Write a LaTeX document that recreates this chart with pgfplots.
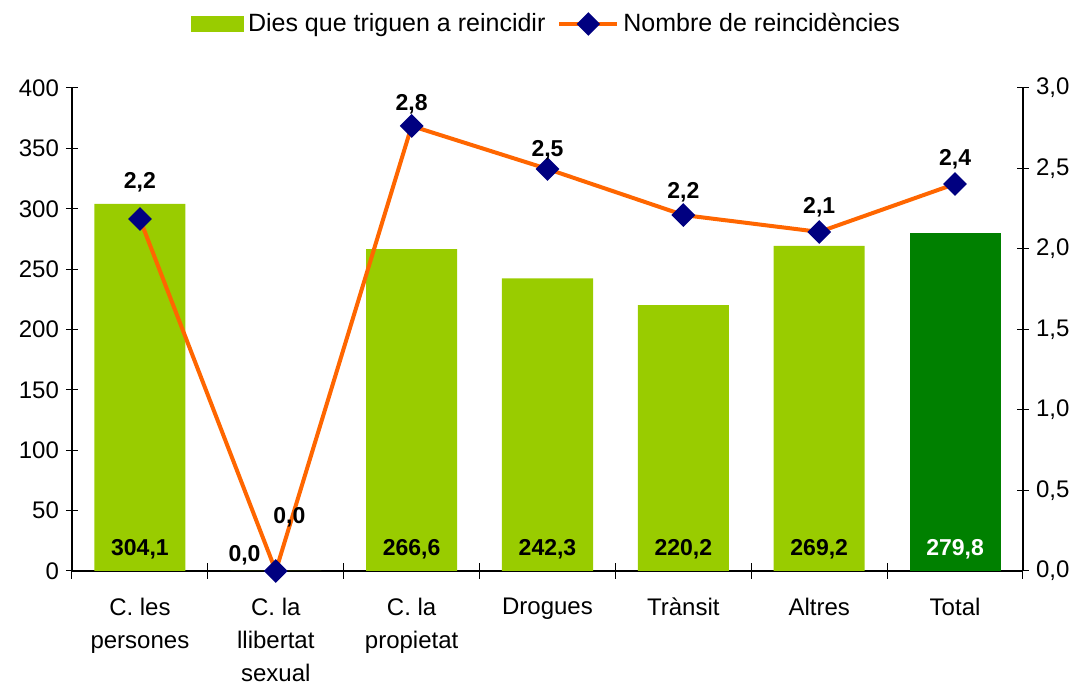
\documentclass[border=0pt]{standalone}
\usepackage{pgfplots}
\pgfplotsset{compat=1.18}
\usepackage{fontspec}
\setmainfont{Liberation Sans}
\definecolor{barlight}{HTML}{99CC00}
\definecolor{bardark}{HTML}{008000}
\definecolor{lineor}{HTML}{FF6600}
\definecolor{marknavy}{HTML}{000080}
\pgfplotstableread{
x y
0 304.1
1 0
2 266.6
3 242.3
4 220.2
5 269.2
}\barsA
\pgfplotstableread{
x y
6 279.8
}\barsB
\pgfplotstableread{
x y
0 2.186
1 0.0
2 2.764
3 2.497
4 2.211
5 2.106
6 2.404
}\linedata
\pgfplotstableread{
x y v
0 18.2 304.1
2 18.2 266.6
3 18.2 242.3
4 18.2 220.2
5 18.2 269.2
}\barlabA
\pgfplotstableread{
x y v
6 18.2 279.8
}\barlabB
\pgfplotstableread{
x y v
0 2.416 2.2
1.1 0.335 0.0
0.77 0.10 0.0
2 2.90 2.8
3 2.615 2.5
4 2.354 2.2
5 2.261 2.1
6 2.559 2.4
}\linelab
\newcommand{\lblfont}{\fontsize{11.5}{13}\selectfont\bfseries}
\begin{document}
\begin{tikzpicture}
\path[use as bounding box] (-36pt,-56.5pt) rectangle (506pt,285.5pt);
\pgfplotsset{
  every axis/.append style={
    scale only axis, width=475.5pt, height=241.5pt,
    at={(0,0)}, anchor=south west,
    xmin=-0.5, xmax=6.5,
    tick align=center,
    major tick length=6pt, minor tick length=8pt,
    tick style={black, line width=0.5pt},
    axis line style={black, line width=0.6pt},
    tick label style={font=\fontsize{12}{16.5}\selectfont},
    /pgf/number format/assume math mode=true,
  }
}
\begin{axis}[
  axis x line*=bottom, axis y line*=left,
  ymin=0, ymax=400, ytick={0,50,...,400},
  xtick={0,...,6},
  xticklabels={{C. les\\persones},{C. la\\llibertat\\sexual},{C. la\\propietat},{Drogues},{Trànsit},{Altres},{Total}},
  xticklabel style={align=center, yshift=-7pt},
  major x tick style={draw=none},
  minor xtick={-0.5,0.5,...,6.5},
  legend style={at={(0.5,1.1325)}, anchor=center, draw=none, fill=none,
    legend columns=2, font=\fontsize{12.5}{15}\selectfont,
    /tikz/every odd column/.append style={column sep=0pt},
    /tikz/every even column/.append style={column sep=4pt}},
  legend cell align=left,
]
\addplot[ybar, bar width=0.67, bar shift=0pt, fill=barlight, draw=none,
  legend image code/.code={\fill[barlight] (0pt,-4pt) rectangle (26.5pt,4pt);}]
  table[x=x,y=y]{\barsA};
\addlegendentry{Dies que triguen a reincidir}
\addplot[ybar, bar width=0.67, bar shift=0pt, fill=bardark, draw=none, forget plot]
  table[x=x,y=y]{\barsB};
\addlegendimage{lineor, line width=2pt,
  legend image code/.code={\draw[lineor, line width=2pt] (0pt,0pt) -- (29pt,0pt);
    \fill[marknavy] (14.5pt,-4.5pt) -- (19pt,0pt) -- (14.5pt,4.5pt) -- (10pt,0pt) -- cycle;}}
\addlegendentry{Nombre de reincidències}
\addplot[draw=none, forget plot, nodes near coords={\pgfmathprintnumber[use comma,fixed,fixed zerofill,precision=1]{\pgfplotspointmeta}},
  point meta=explicit, every node near coord/.append style={anchor=center, font=\lblfont, text=black}]
  table[x=x,y=y,meta=v]{\barlabA};
\addplot[draw=none, forget plot, nodes near coords={\pgfmathprintnumber[use comma,fixed,fixed zerofill,precision=1]{\pgfplotspointmeta}},
  point meta=explicit, every node near coord/.append style={anchor=center, font=\lblfont, text=white}]
  table[x=x,y=y,meta=v]{\barlabB};
\end{axis}
\begin{axis}[
  axis x line=none, axis y line*=right,
  ymin=0, ymax=3, ytick={0,0.5,...,3},
  yticklabel style={/pgf/number format/.cd, use comma, fixed, fixed zerofill, precision=1},
]
\addplot[lineor, line width=2pt, mark=square*, mark size=3.2pt,
  mark options={fill=marknavy, draw=marknavy, rotate=45, solid}]
  table[x=x,y=y]{\linedata};
\addplot[draw=none, nodes near coords={\pgfmathprintnumber[use comma,fixed,fixed zerofill,precision=1]{\pgfplotspointmeta}},
  point meta=explicit, every node near coord/.append style={anchor=center, font=\lblfont, text=black}]
  table[x=x,y=y,meta=v]{\linelab};
\end{axis}
\end{tikzpicture}
\end{document}
